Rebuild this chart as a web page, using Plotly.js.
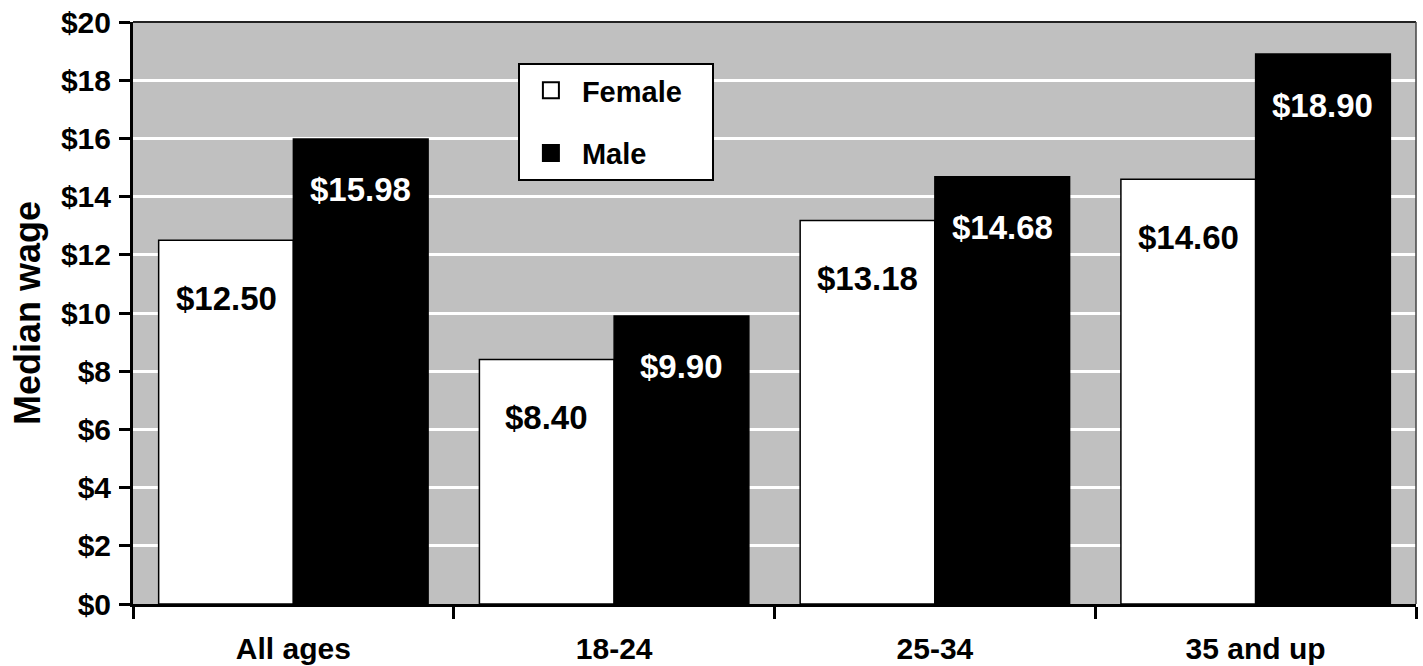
<!DOCTYPE html>
<html>
<head>
<meta charset="utf-8">
<script src="https://cdn.plot.ly/plotly-3.0.1.min.js"></script>
<style>html,body{margin:0;padding:0;background:#fff;}#chart{width:1423px;height:666px;}</style>
</head>
<body>
<div id="chart"></div>
<script>
const categories = ["All ages", "18-24", "25-34", "35 and up"];
const femaleWages = [12.50, 8.40, 13.18, 14.60];
const maleWages = [15.98, 9.90, 14.68, 18.90];
const yTickValues = [0, 2, 4, 6, 8, 10, 12, 14, 16, 18, 20];
const yTickLabels = ["$0", "$2", "$4", "$6", "$8", "$10", "$12", "$14", "$16", "$18", "$20"];

const W = 1423, H = 666;
const margin = {l: 133, r: 7, t: 22, b: 62};
const bargap = 0.16;
const plotW = W - margin.l - margin.r;
const catW = plotW / categories.length;
const barW = catW * (1 - bargap) / 2;

const sans = "Liberation Sans, Arial, Helvetica, sans-serif";
const narrow = "Liberation Sans Narrow, Arial Narrow, Liberation Sans, sans-serif";

const fmt = v => "$" + v.toFixed(2);

const traces = [
  {
    type: "bar", name: "Female", x: categories, y: femaleWages,
    marker: {color: "#ffffff", line: {color: "#000000", width: 1.5}},
    showlegend: false, hoverinfo: "skip"
  },
  {
    type: "bar", name: "Male", x: categories, y: maleWages,
    marker: {color: "#000000", line: {color: "#000000", width: 1.5}},
    showlegend: false, hoverinfo: "skip"
  },
  {
    type: "scatter", mode: "markers", name: "Female   ", legendgroup: "f",
    x: [categories[0]], y: [null],
    marker: {symbol: "square", size: 16, color: "#ffffff", line: {color: "#000000", width: 2}},
    hoverinfo: "skip"
  },
  {
    type: "scatter", mode: "markers", name: "Male", legendgroup: "m",
    x: [categories[0]], y: [null],
    marker: {symbol: "square", size: 16, color: "#000000", line: {color: "#000000", width: 2}},
    hoverinfo: "skip"
  }
];

const annotations = [];
categories.forEach((c, i) => {
  annotations.push({
    x: c, y: femaleWages[i], xref: "x", yref: "y",
    xshift: -barW / 2, yshift: -58, yanchor: "middle", xanchor: "center",
    text: fmt(femaleWages[i]), showarrow: false,
    font: {family: narrow, size: 33, color: "#000000", weight: 700}
  });
  annotations.push({
    x: c, y: maleWages[i], xref: "x", yref: "y",
    xshift: barW / 2, yshift: -51, yanchor: "middle", xanchor: "center",
    text: fmt(maleWages[i]), showarrow: false,
    font: {family: narrow, size: 33, color: "#ffffff", weight: 700}
  });
});

const layout = {
  width: W, height: H,
  margin: margin,
  paper_bgcolor: "#ffffff",
  plot_bgcolor: "#c0c0c0",
  barmode: "group",
  bargap: bargap,
  bargroupgap: 0,
  showlegend: true,
  legend: {
    x: 0.300, y: 0.9296, xanchor: "left", yanchor: "top",
    bgcolor: "#ffffff", bordercolor: "#000000", borderwidth: 2,
    font: {family: sans, size: 29, color: "#000000", weight: 700},
    traceorder: "grouped", tracegroupgap: 22, itemwidth: 52,
    itemsizing: "trace"
  },
  xaxis: {
    type: "category",
    tickson: "boundaries",
    ticks: "outside", ticklen: 12, tickwidth: 3, tickcolor: "#000000",
    showline: true, linecolor: "#000000", linewidth: 3,
    showgrid: false, zeroline: false,
    tickfont: {family: sans, size: 30, color: "#000000", weight: 700},
    ticklabelstandoff: 16,
    fixedrange: true
  },
  yaxis: {
    range: [0, 20],
    tickvals: yTickValues, ticktext: yTickLabels,
    ticks: "outside", ticklen: 11, tickwidth: 3, tickcolor: "#000000",
    showline: true, linecolor: "#000000", linewidth: 3,
    showgrid: true, gridcolor: "#ffffff", gridwidth: 3,
    zeroline: false,
    tickfont: {family: sans, size: 30, color: "#000000", weight: 700},
    ticklabelstandoff: 2,
    title: {text: "Median wage", font: {family: sans, size: 36, color: "#000000", weight: 700}, standoff: 10},
    fixedrange: true
  },
  shapes: [
    {type: "line", xref: "paper", yref: "paper", x0: 0, x1: 1, y0: 1, y1: 1, line: {color: "#222222", width: 2}, layer: "above"},
    {type: "line", xref: "paper", yref: "paper", x0: 1, x1: 1, y0: 0, y1: 1, line: {color: "#444444", width: 1.5}, layer: "above"}
  ],
  annotations: annotations
};

Plotly.newPlot("chart", traces, layout, {displayModeBar: false, staticPlot: true});
</script>
</body>
</html>
